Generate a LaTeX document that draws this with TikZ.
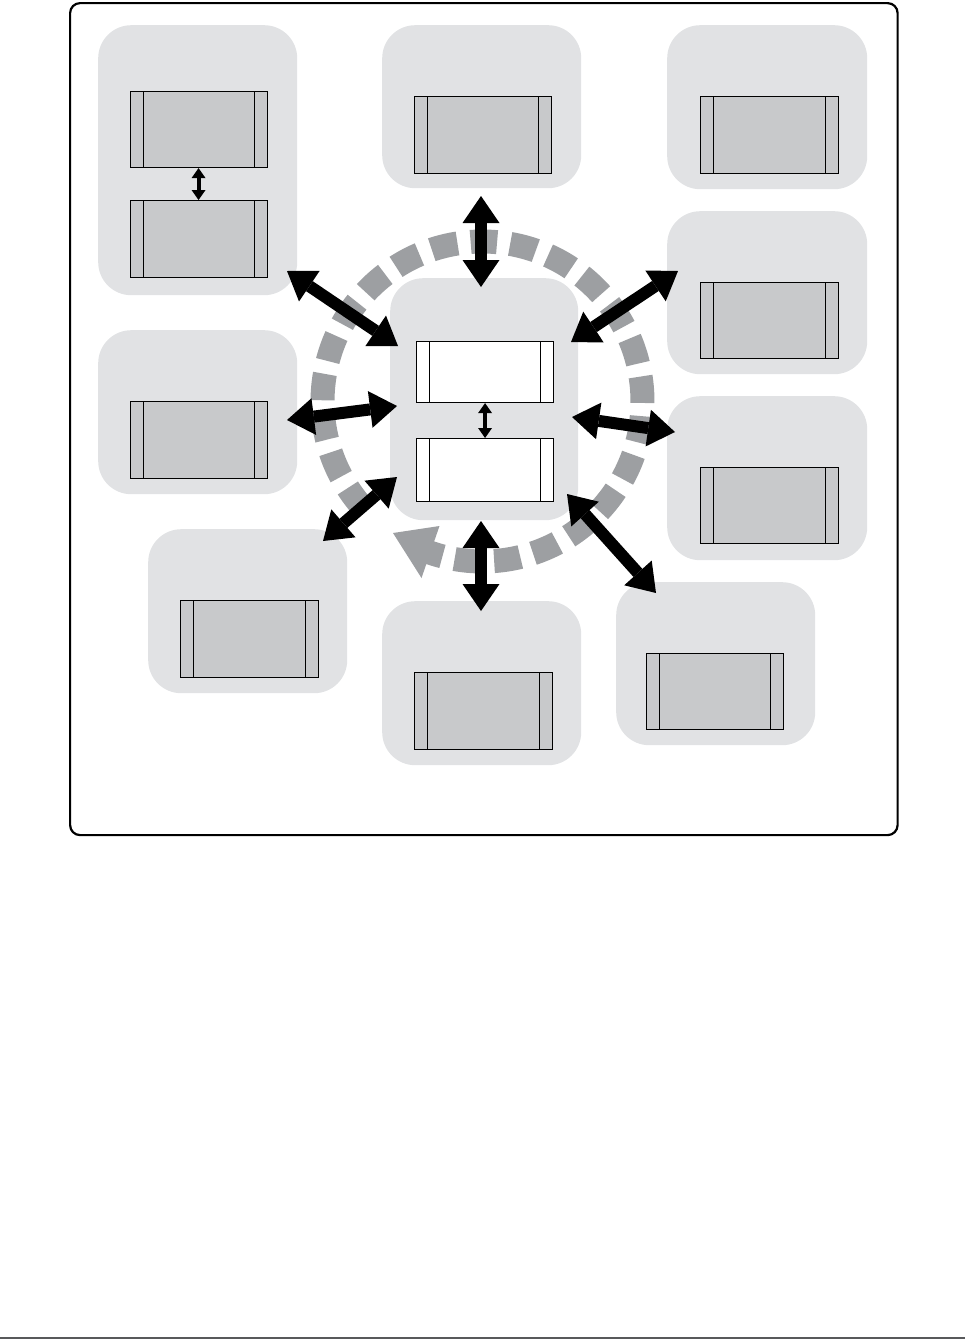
\documentclass[tikz,border=0pt]{standalone}
\usetikzlibrary{arrows.meta}
\definecolor{panelgray}{HTML}{E1E2E4}
\definecolor{boxgray}{HTML}{C8C9CB}
\definecolor{ringgray}{HTML}{9D9FA2}
\definecolor{rulegray}{HTML}{58595B}
\begin{document}
\begin{tikzpicture}[x=1pt,y=-1pt,
  panel/.style={fill=panelgray, draw=none, rounded corners=33pt, inner sep=0pt, anchor=north west},
  unit/.style={draw=black, line width=1.1pt, fill=boxgray, inner sep=0pt, anchor=north west,
    minimum width=137pt, minimum height=77pt,
    path picture={
      \draw[line width=1.1pt] ([xshift=13pt]path picture bounding box.north west) -- ([xshift=13pt]path picture bounding box.south west);
      \draw[line width=1.1pt] ([xshift=-13pt]path picture bounding box.north east) -- ([xshift=-13pt]path picture bounding box.south east);}},
  whiteunit/.style={unit, fill=white},
  bigarrow/.style={line width=12pt, {Triangle[width=37pt,length=27pt,line width=0pt]}-{Triangle[width=37pt,length=27pt,line width=0pt]}},
  smallarrow/.style={line width=4pt, {Triangle[width=14pt,length=10pt,line width=0pt]}-{Triangle[width=14pt,length=10pt,line width=0pt]}},
  ring/.style={draw=ringgray, line width=24pt, dash pattern=on 26.5pt off 13.2pt},
  ringshaft/.style={draw=ringgray, line width=24pt}
]
\useasboundingbox (0,0) rectangle (965,1339);

% outer frame
\node[draw, line width=2.2pt, rounded corners=10pt, inner sep=0pt, anchor=north west,
      minimum width=827.5pt, minimum height=832pt] (frame) at (69,2) {};

% panels
\node[panel, minimum width=199pt, minimum height=270pt] (p1) at (98,25) {};
\node[panel, minimum width=199pt, minimum height=163pt] (p2) at (382,25) {};
\node[panel, minimum width=200pt, minimum height=164pt] (p3) at (667,25) {};
\node[panel, minimum width=200pt, minimum height=163pt] (p4) at (667,211) {};
\node[panel, minimum width=200pt, minimum height=164pt] (p5) at (667,396) {};
\node[panel, minimum width=199pt, minimum height=163pt] (p6) at (616,582) {};
\node[panel, minimum width=199pt, minimum height=164pt] (p7) at (382,601) {};
\node[panel, minimum width=199pt, minimum height=164pt] (p8) at (148,529) {};
\node[panel, minimum width=199pt, minimum height=164pt] (p9) at (98,330) {};
\node[panel, minimum width=188pt, minimum height=242pt] (pc) at (390,278) {};

% units
\node[unit, minimum height=76pt] (b1a) at (130,91) {};
\node[unit] (b1b) at (130,200) {};
\node[unit] (b2) at (414,96) {};
\node[unit, minimum width=138pt] (b3) at (700,96) {};
\node[unit, minimum width=138pt, minimum height=76pt] (b4) at (700,282) {};
\node[unit, minimum width=138pt, minimum height=76pt] (b5) at (700,467) {};
\node[unit, minimum height=76pt] (b6) at (646,653) {};
\node[unit, minimum width=138pt] (b7) at (414,672) {};
\node[unit, minimum width=138pt] (b8) at (180,600) {};
\node[unit] (b9) at (130,401) {};
\node[whiteunit, minimum height=61pt] (bca) at (416,341) {};
\node[whiteunit, minimum height=63pt] (bcb) at (416,438) {};

% circulating ring
\coordinate (rc) at (482.5,401.5);
\draw[ring] (rc) ++(137.8:160) arc[start angle=137.8, end angle=460.5, radius=160];
\draw[ringshaft] (rc) ++(464.5:160) arc[start angle=464.5, end angle=470, radius=160];
\fill[ringgray] (393,533) -- (439.5,526) -- (421.5,578) -- cycle;

% arrow end points
\coordinate (tA1) at (481,196);  \coordinate (tA2) at (481,287);
\coordinate (bA1) at (481,521);  \coordinate (bA2) at (481,611);
\coordinate (ulA1) at (287,271); \coordinate (ulA2) at (398,346);
\coordinate (urA1) at (571,342); \coordinate (urA2) at (678,271);
\coordinate (lA1) at (287,420);  \coordinate (lA2) at (397,406);
\coordinate (rA1) at (572,417);  \coordinate (rA2) at (675,432);
\coordinate (llA1) at (397,477); \coordinate (llA2) at (323,541);
\coordinate (lrA1) at (567,494); \coordinate (lrA2) at (656,593);

\draw[bigarrow] (tA1) -- (tA2);
\draw[bigarrow] (bA1) -- (bA2);
\draw[bigarrow] (ulA1) -- (ulA2);
\draw[bigarrow] (urA1) -- (urA2);
\draw[bigarrow] (lA1) -- (lA2);
\draw[bigarrow] (rA1) -- (rA2);
\draw[bigarrow] (llA1) -- (llA2);
\draw[bigarrow] (lrA1) -- (lrA2);

% small arrows between stacked units
\draw[smallarrow] ([xshift=-0.5pt]b1a.south) -- ([xshift=-0.5pt]b1b.north);
\draw[smallarrow] (bca.south) -- (bcb.north);

% page rule
\coordinate (ruleL) at (0,1337.5);
\coordinate (ruleR) at (965,1337.5);
\draw[rulegray, line width=2pt] (ruleL) -- (ruleR);
\end{tikzpicture}
\end{document}
